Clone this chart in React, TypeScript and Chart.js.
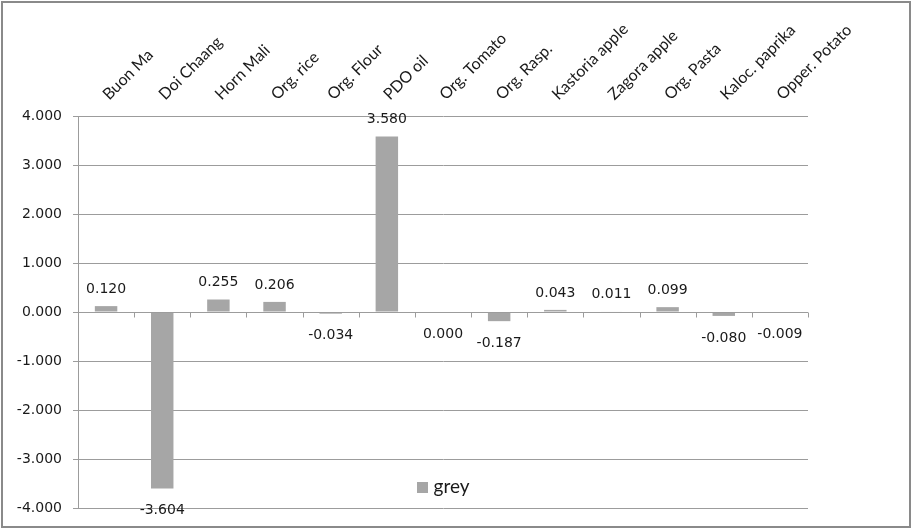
import React, { useEffect, useRef } from "react";
import { Chart, registerables } from "chart.js";

Chart.register(...registerables);

const categories = [
  "Buon Ma",
  "Doi Chaang",
  "Horn Mali",
  "Org. rice",
  "Org. Flour",
  "PDO oil",
  "Org. Tomato",
  "Org. Rasp.",
  "Kastoria apple",
  "Zagora apple",
  "Org. Pasta",
  "Kaloc. paprika",
  "Opper. Potato",
];

const greyValues = [
  0.12, -3.604, 0.255, 0.206, -0.034, 3.58, 0.0, -0.187, 0.043, 0.011, 0.099, -0.08, -0.009,
];

const seriesName = "grey";
const yMin = -4;
const yMax = 4;
const yStep = 1;

const GRID = "#9c9c9c";
const BAR = "#a6a6a6";
const TEXT = "#1a1a1a";
const NUM_FONT = "14px 'DejaVu Sans'";

const decorPlugin = {
  id: "decor",
  afterDatasetsDraw(chart: any) {
    const { ctx, chartArea, scales } = chart;
    const y = scales.y;
    const zeroY = Math.round(y.getPixelForValue(0)) + 0.5;
    ctx.save();
    // zero line with category boundary tick marks
    ctx.strokeStyle = GRID;
    ctx.lineWidth = 1;
    ctx.beginPath();
    ctx.moveTo(chartArea.left, zeroY);
    ctx.lineTo(chartArea.right, zeroY);
    const n = categories.length;
    const w = (chartArea.right - chartArea.left) / n;
    for (let i = 1; i <= n; i++) {
      const bx = Math.round(chartArea.left + w * i) + 0.5;
      ctx.moveTo(bx, zeroY);
      ctx.lineTo(bx, zeroY + 5);
    }
    ctx.stroke();

    // data labels
    const meta = chart.getDatasetMeta(0);
    ctx.font = NUM_FONT;
    ctx.fillStyle = TEXT;
    ctx.textAlign = "center";
    ctx.textBaseline = "middle";
    meta.data.forEach((bar: any, i: number) => {
      const v = greyValues[i];
      const ly = v > 0 ? bar.y - 17 : bar.y + 22;
      ctx.fillText(v.toFixed(3), bar.x, ly);
    });

    // legend inside plot area
    ctx.font = "19px Lato";
    const tw = ctx.measureText(seriesName).width;
    const box = 11;
    const gap = 6;
    const total = box + gap + tw;
    const cx = (chartArea.left + chartArea.right) / 2;
    const ly = chartArea.bottom - 21;
    const sx = cx - total / 2;
    ctx.fillStyle = BAR;
    ctx.fillRect(Math.round(sx), Math.round(ly - box / 2), box, box);
    ctx.fillStyle = TEXT;
    ctx.textAlign = "left";
    ctx.textBaseline = "middle";
    ctx.fillText(seriesName, sx + box + gap, ly);

    // outer border
    ctx.strokeStyle = "#8a8a8a";
    ctx.lineWidth = 2;
    ctx.strokeRect(2, 2, chart.width - 4, chart.height - 4);
    ctx.restore();
  },
};

export default function App() {
  const canvasRef = useRef<HTMLCanvasElement | null>(null);

  useEffect(() => {
    const canvas = canvasRef.current;
    if (!canvas) return;
    const chart = new Chart(canvas, {
      type: "bar",
      data: {
        labels: categories,
        datasets: [
          {
            label: seriesName,
            data: greyValues,
            backgroundColor: BAR,
            borderWidth: 0,
            categoryPercentage: 1,
            barPercentage: 0.4,
          },
        ],
      },
      options: {
        responsive: false,
        animation: false,
        devicePixelRatio: 1,
        layout: { padding: { left: 0, right: 104, top: 0, bottom: 21 } },
        plugins: {
          legend: { display: false },
          tooltip: { enabled: false },
        },
        scales: {
          x: {
            position: "top",
            grid: { display: false, drawTicks: false },
            border: { display: false },
            ticks: {
              autoSkip: false,
              minRotation: 45,
              maxRotation: 45,
              padding: 12,
              labelOffset: 13,
              color: TEXT,
              font: { family: "Lato", size: 16 },
            },
            afterFit: (scale: any) => {
              scale.height = 116;
            },
          },
          y: {
            min: yMin,
            max: yMax,
            grid: { color: GRID, tickLength: 5, drawTicks: true },
            border: { display: true, color: GRID },
            ticks: {
              stepSize: yStep,
              padding: 11,
              color: TEXT,
              font: { family: "DejaVu Sans", size: 14 },
              callback: (v: any) => Number(v).toFixed(3),
            },
            afterFit: (scale: any) => {
              scale.width = 78;
            },
          },
        },
      },
      plugins: [decorPlugin],
    });
    return () => chart.destroy();
  }, []);

  return (
    <div style={{ position: "absolute", left: 0, top: 0, width: 912, height: 529, background: "#fff" }}>
      <canvas ref={canvasRef} width={912} height={529} style={{ width: 912, height: 529, display: "block" }} />
    </div>
  );
}
